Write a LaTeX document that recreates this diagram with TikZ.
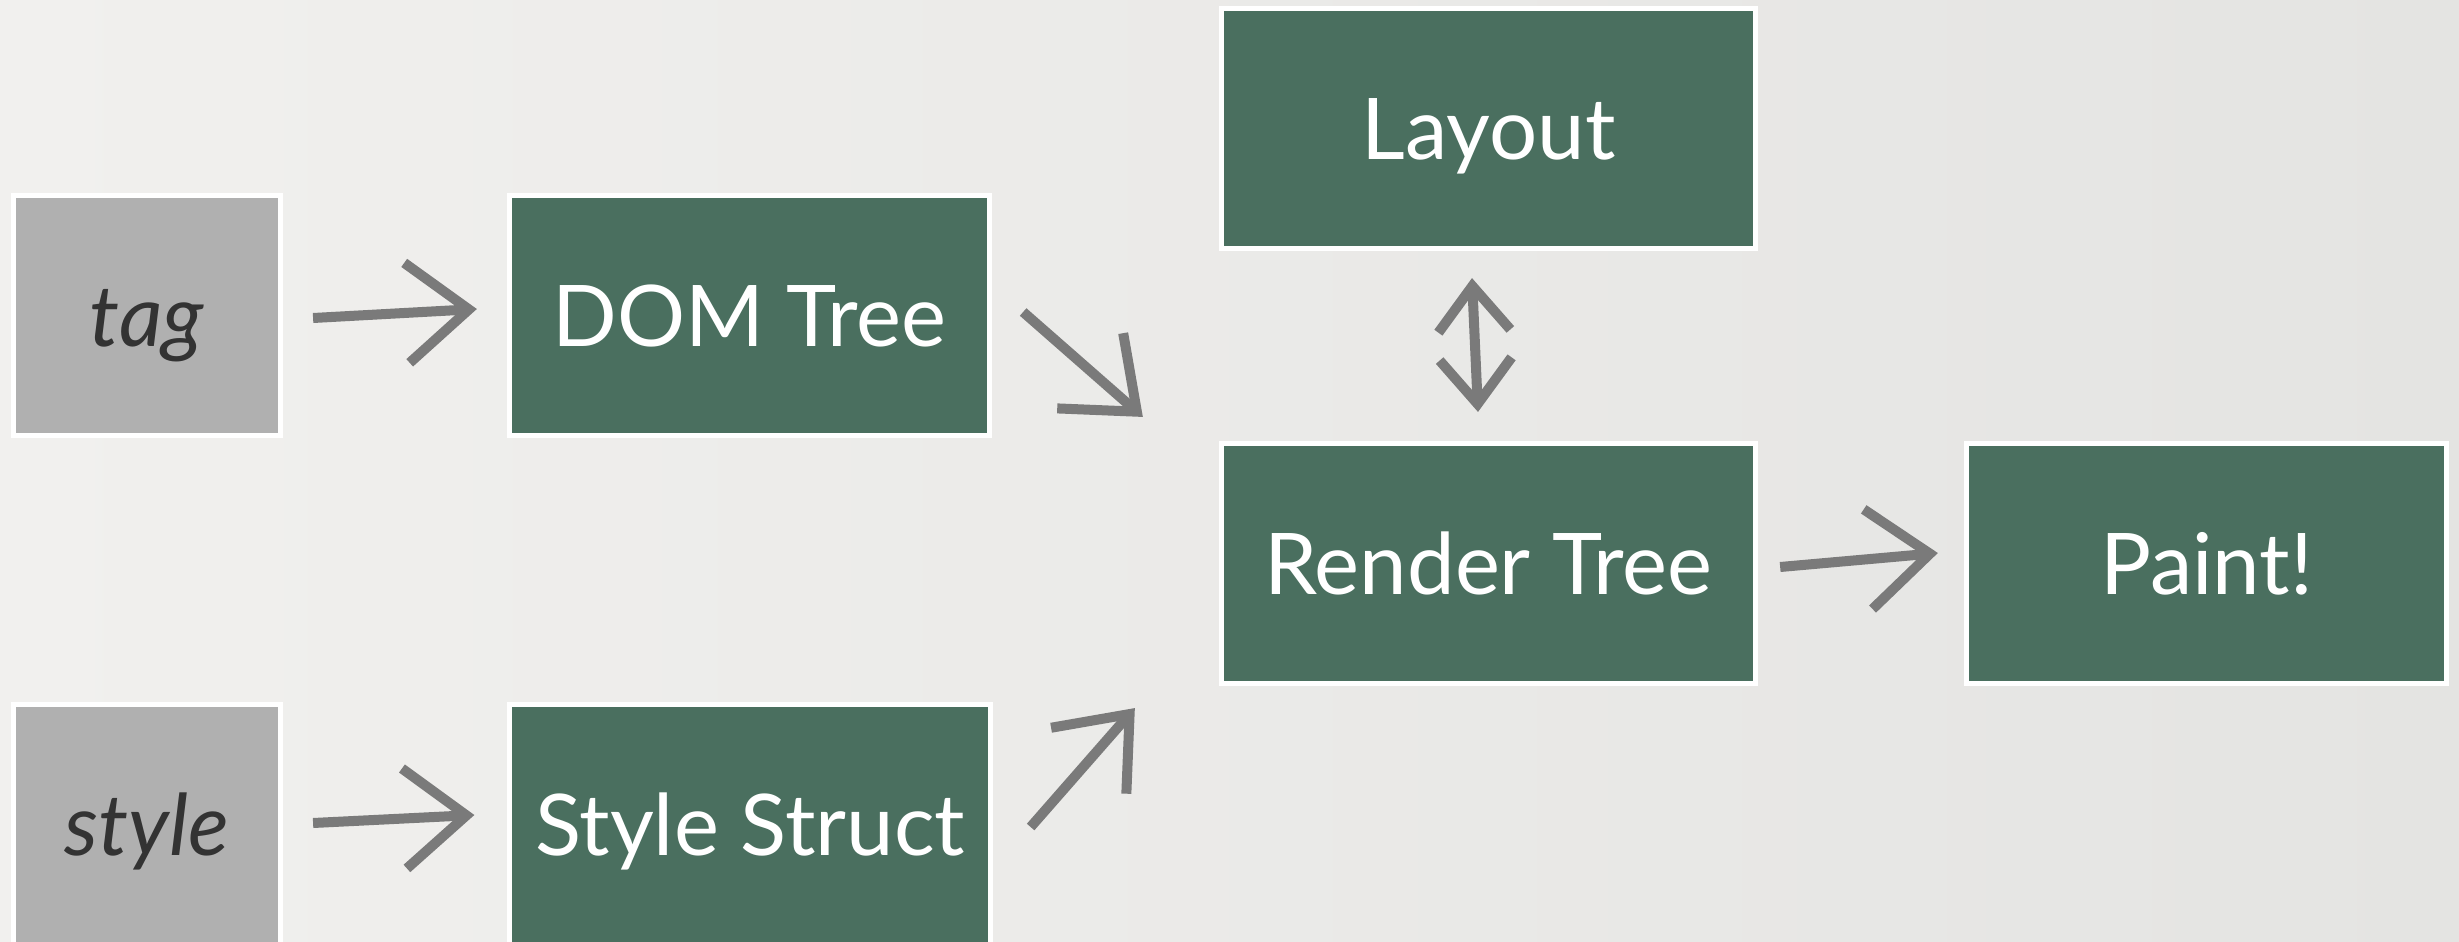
\documentclass[tikz,border=0pt]{standalone}
\usepackage{fontspec}
\setmainfont{Lato}
\usepackage{xcolor}
\usetikzlibrary{arrows.meta}

\definecolor{boxgreen}{HTML}{4A6F5F}
\definecolor{taggray}{HTML}{B0B0B0}
\definecolor{inkgray}{HTML}{333333}
\definecolor{brushgray}{HTML}{7A7A7A}
\definecolor{bglight}{HTML}{F1F0EE}
\definecolor{bgdark}{HTML}{E4E4E2}

\begin{document}
\begin{tikzpicture}[
            x = 0.01cm, y = -0.01cm, % one unit = one pixel, y downwards
            > = {Straight Barb[length=0.62cm, width=1.0cm]}, % brush arrow head
            brush/.style = {color=brushgray, line width=0.1cm},
            small tips/.style = {> = {Straight Barb[length=0.45cm, width=0.72cm]}},
            stage/.style = {shape=rectangle, draw=white, line width=0.05cm, fill=boxgreen,
                text=white, minimum width=4.8cm, minimum height=2.4cm, inner sep=0pt,
                text height=0.61cm, text depth=0pt, font=\fontsize{24.2}{29}\selectfont},
            source/.style = {stage, fill=taggray, text=inkgray, minimum width=2.67cm,
                font=\fontsize{24.2}{29}\selectfont\itshape}
        ]

% background
\useasboundingbox (0,0) rectangle (2459,942);
\shade[left color=bglight, right color=bgdark] (0,0) rectangle (2459,942);

\node[source] (tag) at (147,315.5) {tag};
\node[source] (style) at (147,824.5) {style};
\node[stage] (dom) at (749.5,315.5) {DOM Tree};
\node[stage] (struct) at (750,824.5) {Style Struct};
\node[stage, minimum width=5.34cm] (layout) at (1488.5,128.5) {Layout};
\node[stage, minimum width=5.34cm] (render) at (1488.5,563.5) {Render Tree};
\node[stage] (paint) at (2206.5,563.5) {Paint!};

 \path [->, brush] ([shift={(30,2.5)}]tag.east) edge ([shift={(-30,-6.5)}]dom.west);
 \path [->, brush] ([shift={(30,-1.5)}]style.east) edge ([shift={(-33,-9.5)}]struct.west);
 \path [->, brush] ([shift={(31,-3.5)}]dom.east) edge ([shift={(-76,-24)}]render.north west);
 \path [->, brush] ([shift={(38,2.5)}]struct.east) edge ([shift={(-84,22)}]render.south west);
 \path [->, brush] ([shift={(22,3.5)}]render.east) edge ([shift={(-26,-10.5)}]paint.west);
 \path [<->, brush, small tips] ([shift={(-16.5,27)}]layout.south) edge ([shift={(-10.5,-29)}]render.north);
\end{tikzpicture}
\end{document}
